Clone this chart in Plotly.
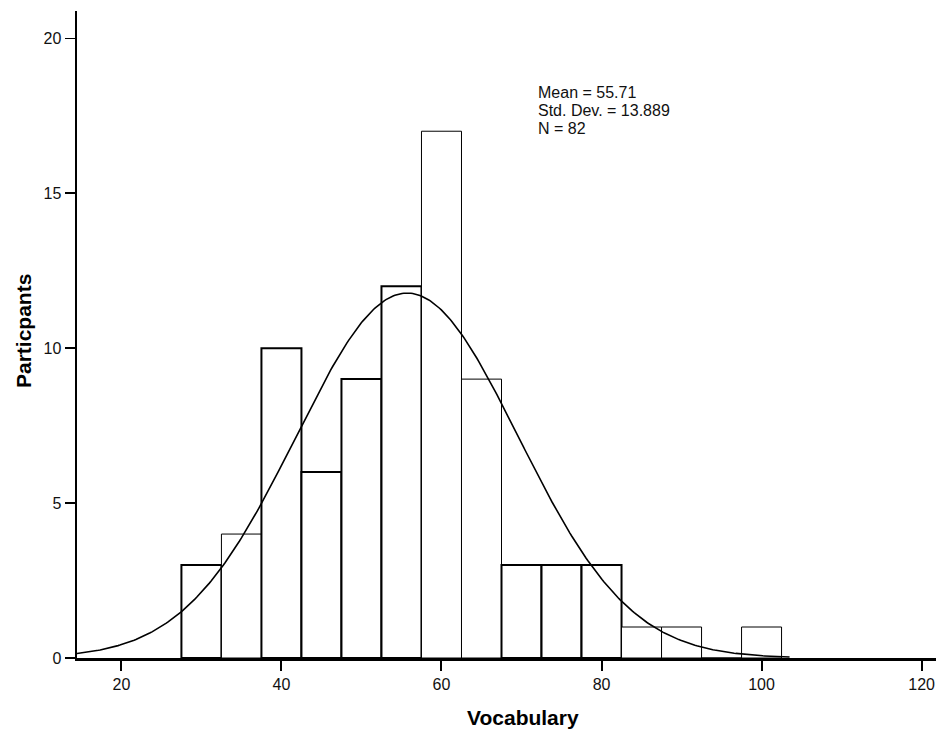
import numpy as np
import plotly.graph_objects as go

# Data
bin_centers = [30, 35, 40, 45, 50, 55, 60, 65, 70, 75, 80, 85, 90, 95, 100]
counts = [3, 4, 10, 6, 9, 12, 17, 9, 3, 3, 3, 1, 1, 0, 1]
bin_width = 5
mean_val = 55.71
sd_val = 13.889
n_val = 82
stats_lines = ["Mean = 55.71", "Std. Dev. = 13.889", "N = 82"]
x_ticks = [20, 40, 60, 80, 100, 120]
y_ticks = [0, 5, 10, 15, 20]

# style: outline widths (SPSS rendering makes some outlines thicker)
edge_widths = [2, 1, 2, 2, 2, 2, 1, 1, 2, 2, 2, 1, 1, 1, 1]

x_min, x_max = 14.45, 121.8
y_max = 20.88

# fitted normal curve (scaled to counts)
xc = np.linspace(x_min, 103.5, 400)
yc = n_val * bin_width / (sd_val * np.sqrt(2 * np.pi)) * np.exp(-0.5 * ((xc - mean_val) / sd_val) ** 2)

fig = go.Figure()
fig.add_trace(go.Bar(
    x=bin_centers, y=counts, width=bin_width,
    marker=dict(color="white", line=dict(color="black", width=edge_widths)),
    showlegend=False, hoverinfo="skip",
))
fig.add_trace(go.Scatter(
    x=xc, y=yc, mode="lines",
    line=dict(color="black", width=1.6),
    showlegend=False, hoverinfo="skip",
))

font_family = "Liberation Sans, Arial, sans-serif"

annotations = []
stat_y = [18.24, 17.68, 17.10]
for txt, yy in zip(stats_lines, stat_y):
    annotations.append(dict(
        x=71.8, y=yy, xref="x", yref="y", text=txt, showarrow=False,
        xanchor="left", yanchor="middle",
        font=dict(family=font_family, size=16, color="#111"),
    ))

# axis titles
annotations.append(dict(
    x=(522.5 - 77) / 859, y=-(717 - 658) / 647, xref="paper", yref="paper",
    text="<b>Vocabulary</b>", showarrow=False, xanchor="center", yanchor="middle",
    font=dict(family=font_family, size=21, color="black"),
))
annotations.append(dict(
    x=-(77 - 24) / 859, y=1 - (331 - 11) / 647, xref="paper", yref="paper",
    text="<b>Particpants</b>", showarrow=False, xanchor="center", yanchor="middle",
    textangle=-90,
    font=dict(family=font_family, size=21, color="black"),
))

fig.update_layout(
    width=936, height=731,
    margin=dict(l=77, r=0, t=11, b=73),
    paper_bgcolor="white", plot_bgcolor="white",
    bargap=0,
    annotations=annotations,
    font=dict(family=font_family, size=16, color="#111"),
)
fig.update_xaxes(
    range=[x_min, x_max], tickvals=x_ticks, ticktext=[str(v) for v in x_ticks],
    showgrid=False, zeroline=False, showline=True, linecolor="black", linewidth=2.5,
    ticks="outside", ticklen=10, tickwidth=2, tickcolor="black",
    tickfont=dict(family=font_family, size=16, color="#111"),
)
fig.update_yaxes(
    range=[0, y_max], tickvals=y_ticks, ticktext=[str(v) for v in y_ticks],
    showgrid=False, zeroline=False, showline=True, linecolor="black", linewidth=2.5,
    ticks="outside", ticklen=10, tickwidth=1.5, tickcolor="black",
    tickfont=dict(family=font_family, size=16, color="#111"),
)

fig.write_html(
    "out.html",
    config={"displayModeBar": False, "staticPlot": True},
    post_script="document.body.style.margin='0';document.body.style.overflow='hidden';",
)
